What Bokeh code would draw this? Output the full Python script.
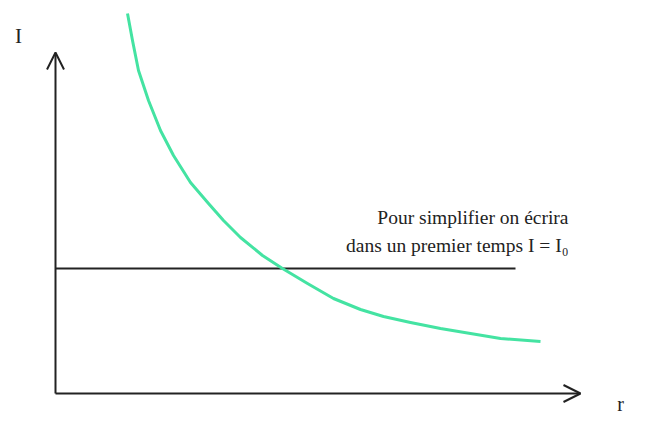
from bokeh.plotting import figure
from bokeh.models import Range1d, Arrow, OpenHead
from bokeh.core.properties import value
from bokeh.embed import file_html
from bokeh.resources import INLINE

# Curve I(r) (arbitrary units)
r_vals = [72, 77, 83, 93, 105, 118, 135, 153, 168, 185, 207, 227, 252, 278,
          305, 328, 355, 385, 415, 445, 485]
i_vals = [380, 353, 323, 293, 263, 238, 211, 190, 173, 156, 138, 125, 110, 95,
          84, 77, 71, 65, 60, 55, 52]

# Constant approximation I = I0
i0 = 125
r_const = [0, 460]

x_axis_end = 525
y_axis_end = 341

line1 = "Pour simplifier on écrira"
line2 = "dans un premier temps I = I₀"

p = figure(width=640, height=413, output_backend="svg", toolbar_location=None,
           x_range=Range1d(-55, 585), y_range=Range1d(-20, 393),
           min_border=0, outline_line_color=None)
p.axis.visible = False
p.grid.visible = False
p.background_fill_color = "white"
p.border_fill_color = "white"

ink = "#222222"
# axes with arrows
p.add_layout(Arrow(x_start=0, y_start=0, x_end=x_axis_end, y_end=0,
                   line_color=ink, line_width=2,
                   end=OpenHead(size=17, line_color=ink, line_width=2)))
p.add_layout(Arrow(x_start=0, y_start=0, x_end=0, y_end=y_axis_end,
                   line_color=ink, line_width=2,
                   end=OpenHead(size=17, line_color=ink, line_width=2)))

# horizontal line
p.line(r_const, [i0, i0], line_color=ink, line_width=2)

# curve
p.line(r_vals, i_vals, line_color="#44E3A2", line_width=3, line_join="round")

font = value("Liberation Serif")
p.text([513], [176], text=[line1], text_font=font, text_font_size="19.5px",
       text_align="right", text_baseline="alphabetic", text_color=ink)
p.text([513], [148], text=[line2], text_font=font, text_font_size="19.5px",
       text_align="right", text_baseline="alphabetic", text_color=ink)

p.text([-37], [358], text=["I"], text_font=font, text_font_size="21px",
       text_align="center", text_baseline="alphabetic", text_color=ink)
p.text([565], [-10], text=["r"], text_font=font, text_font_size="20px",
       text_align="center", text_baseline="alphabetic", text_color=ink)

open("out.html", "w").write(file_html(p, INLINE))
